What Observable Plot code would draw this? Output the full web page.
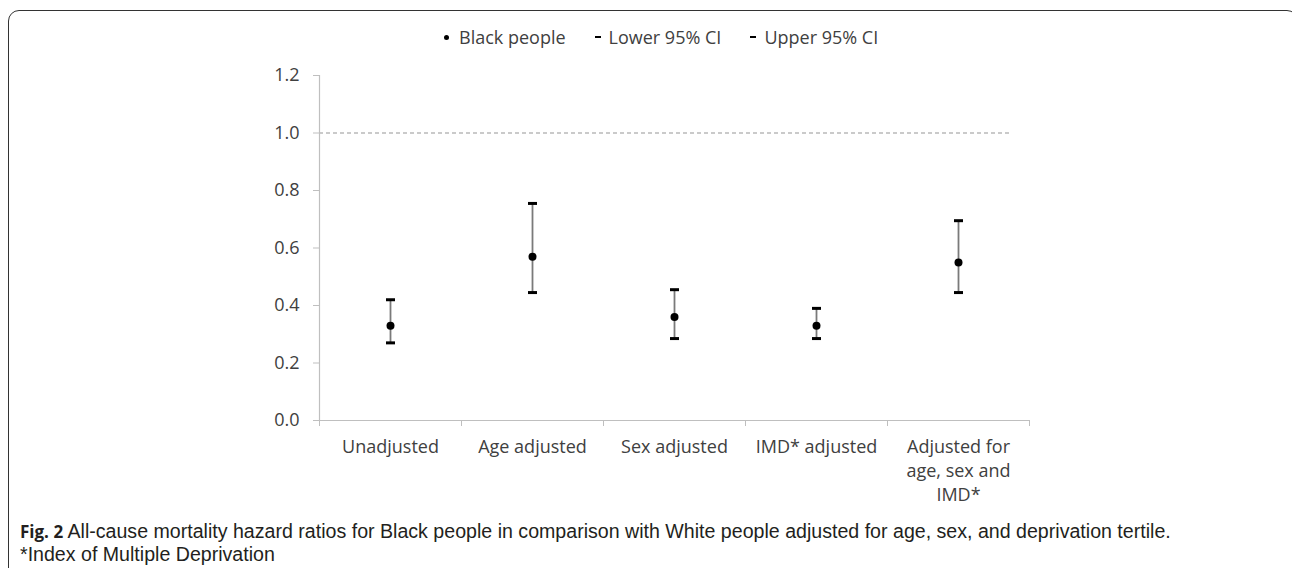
<!DOCTYPE html>
<html>
<head>
<meta charset="utf-8">
<script src="https://cdn.jsdelivr.net/npm/d3@7"></script>
<script src="https://cdn.jsdelivr.net/npm/@observablehq/plot@0.6"></script>
<style>
  body { margin: 0; background: #fff; }
  #wrap { position: relative; width: 1292px; height: 568px; overflow: hidden; background: #fff; }
  #frame { position: absolute; left: 8px; top: 10px; width: 1290px; height: 620px; border: 1.6px solid #333; border-radius: 11px; box-sizing: border-box; }
  #legend { position: absolute; top: 25px; left: 441px; display: flex; font-family: "Open Sans", sans-serif; font-size: 18px; color: #404040; white-space: nowrap; }
  .item { display: flex; align-items: center; margin-right: 29px; }
  .dotm { width: 5px; height: 5px; border-radius: 50%; background: #000; margin-right: 10px; margin-left: 3px; }
  .dashm { width: 6px; height: 2px; background: #000; margin-right: 8px; }
  #chart { position: absolute; left: 0; top: 0; }
  #caption { position: absolute; left: 20px; top: 520px; font-family: "Liberation Sans Narrow", sans-serif; font-weight: 400; font-size: 19.6px; color: #231f20; line-height: 23px; white-space: nowrap; }
  #caption b { font-family: "Open Sans", sans-serif; font-weight: 700; font-size: 17px; }
</style>
</head>
<body>
<div id="wrap">
  <div id="frame"></div>
  <div id="legend"></div>
  <div id="chart"></div>
  <div id="caption"></div>
</div>
<script>
const categories = ["Unadjusted", "Age adjusted", "Sex adjusted", "IMD* adjusted", "Adjusted for\nage, sex and\nIMD*"];
const hazardRatio = [0.33, 0.57, 0.36, 0.33, 0.55];
const lowerCI = [0.27, 0.445, 0.285, 0.285, 0.445];
const upperCI = [0.42, 0.755, 0.455, 0.39, 0.695];
const yTicks = [0, 0.2, 0.4, 0.6, 0.8, 1.0, 1.2];
const referenceLine = [1.0];
const legendLabels = ["Black people", "Lower 95% CI", "Upper 95% CI"];
const captionTitle = "Fig. 2";
const captionText = "All-cause mortality hazard ratios for Black people in comparison with White people adjusted for age, sex, and deprivation tertile.";
const captionNote = "*Index of Multiple Deprivation";

const data = categories.map((c, i) => ({c, pos: i + 0.5, hr: hazardRatio[i], lo: lowerCI[i], hi: upperCI[i]}));
const caps = data.flatMap(d => [{pos: d.pos, v: d.lo}, {pos: d.pos, v: d.hi}]);

const capSymbol = {
  draw(ctx) { ctx.moveTo(-4.5, 0); ctx.lineTo(4.5, 0); }
};

const axisColor = "#bfbfbf";
const textColor = "#404040";

const plot = Plot.plot({
  width: 1292,
  height: 510,
  marginLeft: 319,
  marginRight: 263,
  marginTop: 75,
  marginBottom: 90,
  style: {fontFamily: "'Open Sans', sans-serif", fontSize: "18px", color: textColor, background: "transparent", overflow: "visible"},
  x: {domain: [0, categories.length], axis: null},
  y: {domain: [0, 1.2], axis: null},
  marks: [
    Plot.ruleY(referenceLine, {stroke: "#969696", strokeWidth: 1.2, strokeDasharray: "4,3", insetRight: 17}),
    Plot.ruleX([0], {stroke: axisColor, strokeWidth: 1.2}),
    Plot.ruleY([0], {stroke: axisColor, strokeWidth: 1.2}),
    Plot.axisY({ticks: yTicks, tickSize: 6, tickPadding: 14, tickFormat: d3.format(".1f"), stroke: axisColor, fill: textColor, fontSize: 18, label: null}),
    Plot.axisX({ticks: d3.range(0, categories.length + 1), tickSize: 6, tickFormat: () => "", stroke: axisColor, label: null}),
    Plot.text(data, {x: "pos", y: () => 0, text: "c", lineAnchor: "top", dy: 15, lineHeight: 1.333, fill: textColor, fontSize: 18}),
    Plot.ruleX(data, {x: "pos", y1: "lo", y2: "hi", stroke: "#7a7a7a", strokeWidth: 1.8}),
    Plot.dot(caps, {x: "pos", y: "v", symbol: capSymbol, stroke: "#000", strokeWidth: 3, r: 4}),
    Plot.dot(data, {x: "pos", y: "hr", r: 4, fill: "#000"})
  ]
});
document.getElementById("chart").appendChild(plot);

// legend
const legend = document.getElementById("legend");
legendLabels.forEach((lab, i) => {
  const it = document.createElement("div");
  it.className = "item";
  const m = document.createElement("span");
  m.className = i === 0 ? "dotm" : "dashm";
  const t = document.createElement("span");
  t.textContent = lab;
  it.appendChild(m); it.appendChild(t);
  legend.appendChild(it);
});

// caption
const cap = document.getElementById("caption");
const b = document.createElement("b");
b.textContent = captionTitle;
cap.appendChild(b);
cap.appendChild(document.createTextNode(" " + captionText));
cap.appendChild(document.createElement("br"));
cap.appendChild(document.createTextNode(captionNote));
</script>
</body>
</html>
